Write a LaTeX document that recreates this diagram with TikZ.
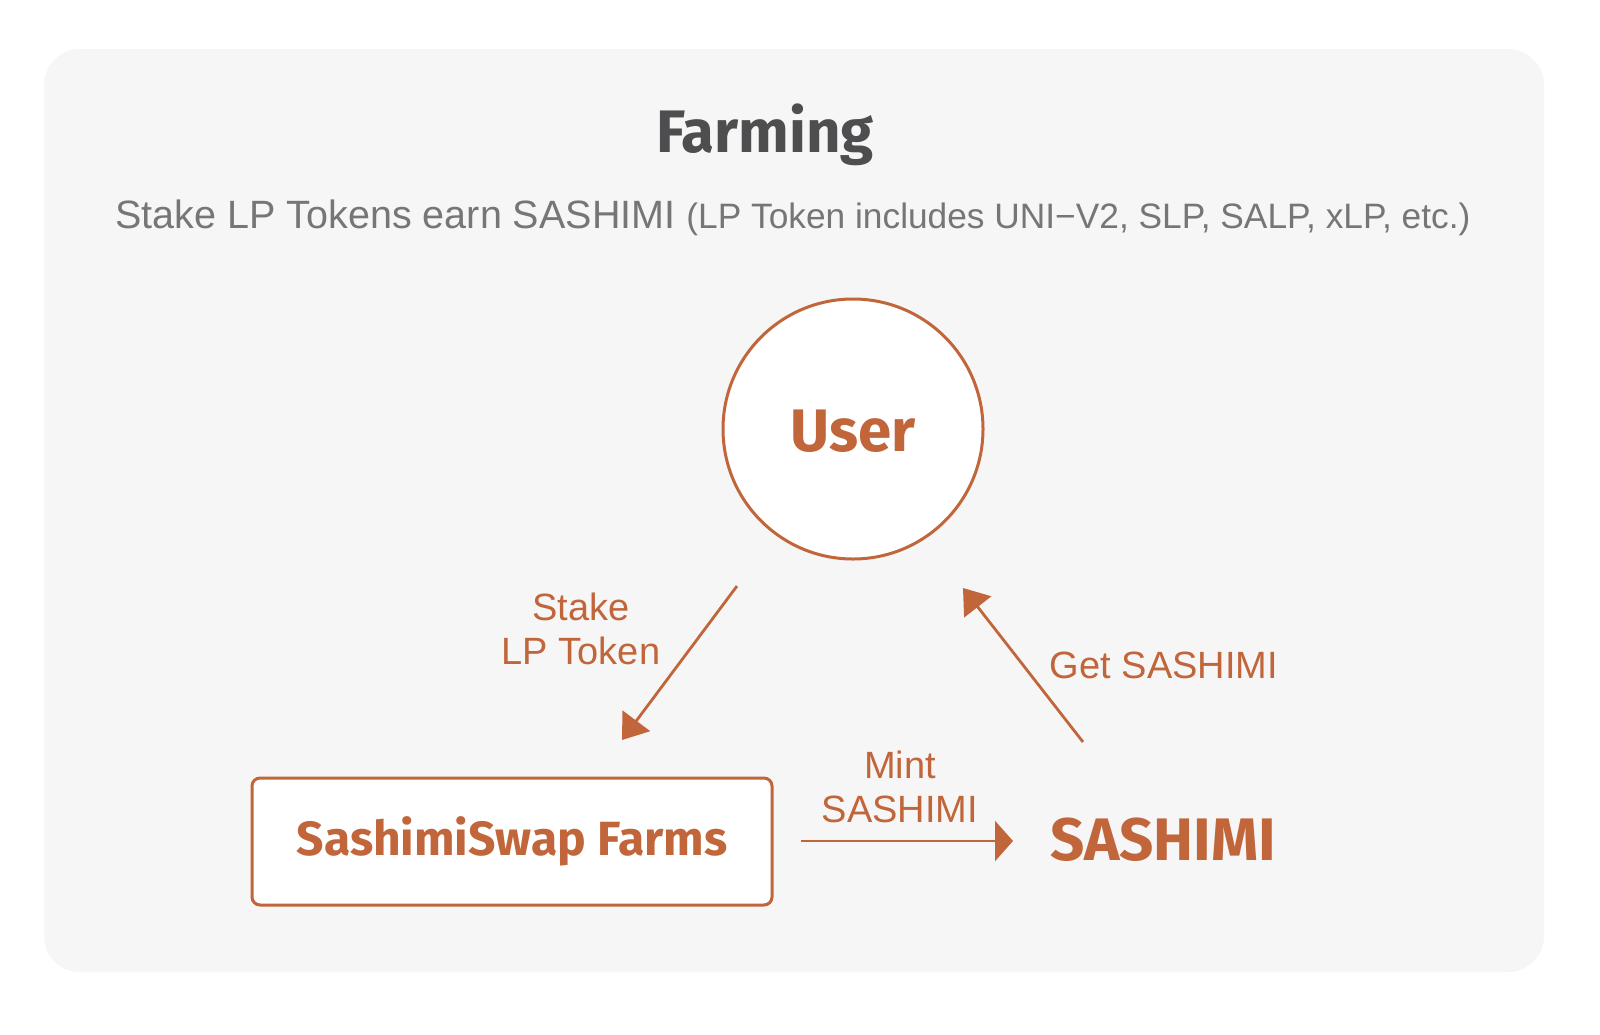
\documentclass[tikz,border=0pt]{standalone}
\usepackage{fontspec}
\setmainfont{Liberation Sans}
\newfontfamily\fira{Fira Sans}
\usetikzlibrary{arrows.meta}
\definecolor{sorange}{RGB}{193,101,58}
\definecolor{panelbg}{RGB}{246,246,246}
\definecolor{titlegray}{RGB}{78,78,80}
\definecolor{subgray}{RGB}{118,118,118}
\begin{document}
\begin{tikzpicture}[x=1pt,y=-1pt,
  flow/.style={draw=sorange, line width=2.8pt, -{Triangle[length=24pt,width=34pt]}},
  lbl/.style={text=sorange, font=\fontsize{38}{44}\selectfont, align=center, inner sep=0pt},
  heavy/.style={text=sorange, font=\fira\bfseries\fontsize{#1}{#1}\selectfont, inner sep=0pt},
]
\useasboundingbox (0,0) rectangle (1600,1034);
\fill[white] (0,0) rectangle (1600,1034);
\fill[panelbg, rounded corners=36pt] (44,49) rectangle (1544,972);

% title and subtitle
\node[anchor=base, text=titlegray, font=\fira\bfseries\fontsize{60}{60}\selectfont, inner sep=0pt] (title) at (765,152) {Farming};
\node[anchor=base, text=subgray, inner sep=0pt] (sub) at (793,228)
  {\fontsize{39.5}{44}\selectfont Stake LP Tokens earn SASHIMI \fontsize{35.3}{44}\selectfont(LP Token includes UNI−V2, SLP, SALP, xLP, etc.)};

% nodes
\node[circle, draw=sorange, line width=3pt, fill=white, minimum size=260pt, inner sep=0pt] (user) at (853,429) {};
\node[heavy=60, anchor=base] (usertxt) at (853,451) {User};
\node[draw=sorange, line width=3pt, fill=white, rounded corners=8pt, minimum width=520pt, minimum height=127pt] (farms) at (512,841.5) {};
\node[heavy=48, anchor=base] (farmstxt) at (512,855) {SashimiSwap Farms};
\node[heavy=60, anchor=base] (sashimi) at (1163,860) {SASHIMI};

% connector ends
\coordinate (s1) at (737,586);
\coordinate (s2) at (622,740);
\coordinate (m1) at (801,841);
\coordinate (m2) at (1013,841);
\coordinate (g1) at (1083,742);
\coordinate (g2) at (963,588);

\draw[flow] (s1) -- (s2);
\draw[flow, -{Triangle[length=18pt,width=40pt]}] (m1) -- (m2);
\draw[flow] (g1) -- (g2);

% labels
\node[lbl] (stakelbl) at (581,629) {Stake\\LP Token};
\node[lbl] (mintlbl) at (900,787) {Mint\\SASHIMI};
\node[lbl, anchor=base] (getlbl) at (1164,678) {Get SASHIMI};
\end{tikzpicture}
\end{document}
